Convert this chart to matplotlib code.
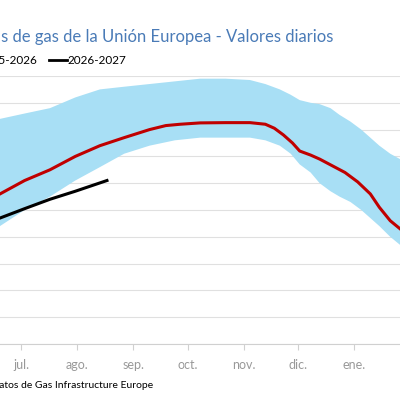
import matplotlib
matplotlib.use("Agg")
import matplotlib.pyplot as plt

months = ["jul.", "ago.", "sep.", "oct.", "nov.", "dic.", "ene."]
month_pos = [0, 31, 62, 92, 123, 153, 184]

band_x = [-11.6, 2, 16, 30, 43.6, 57, 71, 85, 99, 113, 126.5, 135, 143, 149, 154, 160, 165, 171, 176, 182, 188, 193, 198, 204, 209.4]
band_hi = [84, 86, 88, 92, 95, 96, 97, 98, 99, 99, 98.5, 97, 95, 93, 91, 90, 89.5, 88, 85.5, 83, 80, 77, 74, 71, 69]
band_lo = [44, 50, 55, 61, 66, 71, 74, 76, 77, 77, 77, 76, 74, 71, 67, 64, 60, 57, 55, 53, 50, 47, 44, 40, 37]

red_x = [-11.6, 2, 16, 30, 43.6, 57, 71, 80, 88, 99, 113, 126.5, 135, 140, 145, 150, 154, 160, 165, 172, 179, 186, 193, 198, 204, 209.4]
red_y = [56, 61, 65, 70, 74, 77, 80, 81.5, 82, 82.5, 82.6, 82.6, 82, 80.5, 78, 75, 72, 70.5, 69, 66.5, 64, 60.5, 56, 51, 46, 43]

blk_x = [-11.6, 2, 16, 30, 47.5]
blk_y = [47, 50.5, 54, 57, 61]

FONT = "Lato"
fig = plt.figure(figsize=(4, 4), dpi=100)
ax = fig.add_axes([0, 0.14, 1, 0.67])
ax.fill_between(band_x, band_lo, band_hi, color="#a8dff5", lw=0)
ax.plot(red_x, red_y, color="#c00000", lw=2.2)
ax.plot(blk_x, blk_y, color="black", lw=2.2)
ax.set_xlim(-11.6, 209.4)
ax.set_ylim(0, 100)
ax.set_yticks(range(0, 101, 10))
ax.yaxis.grid(True, color="#e0e0e0", lw=0.8)
ax.set_axisbelow(True)
ax.tick_params(axis="y", length=0, labelleft=False)
ax.set_xticks(month_pos)
ax.set_xticklabels(months, color="#999999", fontsize=9, family=FONT)
ax.tick_params(axis="x", color="#d0d0d0", length=4, pad=7)
for s in ["top", "left", "right"]:
    ax.spines[s].set_visible(False)
ax.spines["bottom"].set_color("#d0d0d0")

fig.text(333/400, 1-37/400, "Reservas de gas de la Unión Europea - Valores diarios",
         ha="right", va="center", color="#4a7bb7", fontsize=12, family=FONT)
fig.text(37/400, 1-60/400, "2025-2026", ha="right", va="center", fontsize=8.5, family=FONT)
fig.add_artist(plt.Line2D([49/400, 67/400], [1-60/400]*2, color="black", lw=2))
fig.text(68/400, 1-60/400, "2026-2027", ha="left", va="center", fontsize=8.5, family=FONT)
fig.text(153/400, 1-385/400, "Fuente: elaboración propia con datos de Gas Infrastructure Europe",
         ha="right", va="center", fontsize=7.5, family=FONT)
fig.savefig("out.png", dpi=100)
